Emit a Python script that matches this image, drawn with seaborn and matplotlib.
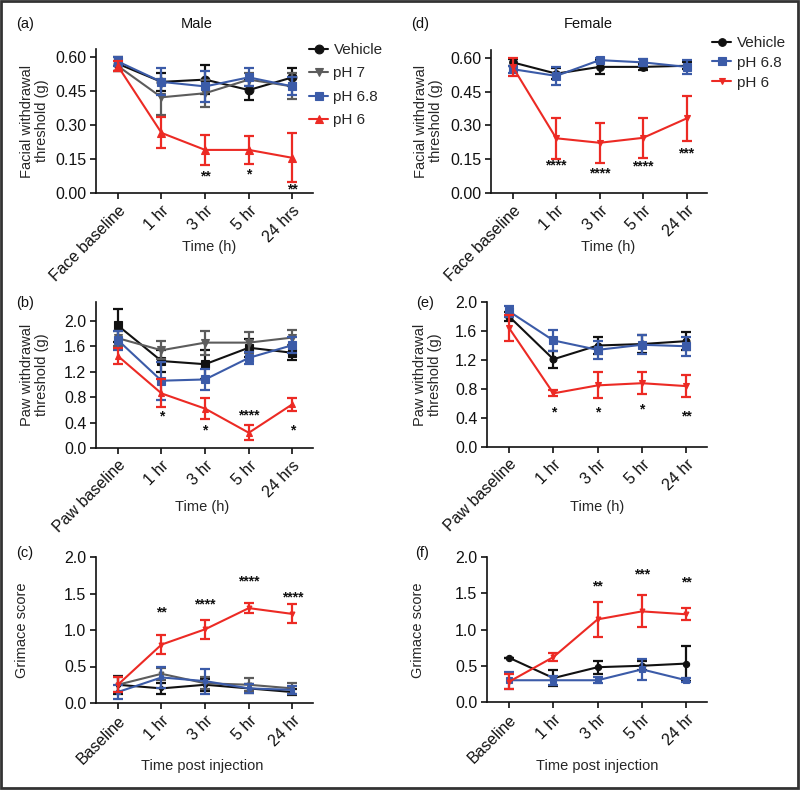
import numpy as np
import pandas as pd
import matplotlib
matplotlib.use("Agg")
import matplotlib.pyplot as plt
import seaborn as sns
from matplotlib.patches import Rectangle

sns.set_theme(style="ticks")
plt.rcParams['font.family'] = ['Liberation Sans', 'DejaVu Sans']

# ---------------- data ----------------
time_idx = [0, 1, 2, 3, 4]
labels_face_m = ["Face baseline", "1 hr", "3 hr", "5 hr", "24 hrs"]
labels_face_f = ["Face baseline", "1 hr", "3 hr", "5 hr", "24 hr"]
labels_paw_m = ["Paw baseline", "1 hr", "3 hr", "5 hr", "24 hrs"]
labels_paw_f = ["Paw baseline", "1 hr", "3 hr", "5 hr", "24 hr"]
labels_grim = ["Baseline", "1 hr", "3 hr", "5 hr", "24 hr"]

# (a) Male facial
a_veh = [0.57, 0.49, 0.50, 0.454, 0.51]
a_veh_err = [0.03, 0.04, 0.065, 0.045, 0.04]
a_ph7 = [0.56, 0.422, 0.44, 0.50, 0.47]
a_ph7_err = [0.02, 0.08, 0.06, 0.03, 0.057]
a_ph68 = [0.58, 0.49, 0.47, 0.51, 0.47]
a_ph68_err = [0.02, 0.06, 0.07, 0.04, 0.04]
a_ph6 = [0.56, 0.265, 0.19, 0.19, 0.155]
a_ph6_err = [0.02, 0.068, 0.065, 0.06, 0.108]
a_sig_x = [2, 3, 4]
a_sig_y = [0.075, 0.08, 0.015]
a_sig_t = ["**", "*", "**"]

# (d) Female facial
d_veh = [0.58, 0.53, 0.56, 0.56, 0.565]
d_veh_err = [0.015, 0.025, 0.03, 0.015, 0.015]
d_ph68 = [0.55, 0.52, 0.59, 0.58, 0.56]
d_ph68_err = [0.015, 0.04, 0.01, 0.015, 0.03]
d_ph6 = [0.56, 0.243, 0.223, 0.245, 0.331]
d_ph6_err = [0.04, 0.09, 0.09, 0.09, 0.1]
d_sig_x = [1, 2, 3, 4]
d_sig_y = [0.124, 0.087, 0.12, 0.176]
d_sig_t = ["****", "****", "****", "***"]

# (b) Male paw
b_veh = [1.93, 1.37, 1.32, 1.58, 1.50]
b_veh_err = [0.26, 0.18, 0.23, 0.14, 0.11]
b_ph7 = [1.73, 1.54, 1.66, 1.66, 1.74]
b_ph7_err = [0.12, 0.14, 0.19, 0.16, 0.12]
b_ph68 = [1.70, 1.06, 1.08, 1.42, 1.62]
b_ph68_err = [0.15, 0.30, 0.16, 0.10, 0.13]
b_ph6 = [1.45, 0.86, 0.62, 0.24, 0.69]
b_ph6_err = [0.12, 0.22, 0.16, 0.12, 0.10]
b_sig_x = [1, 2, 3, 4]
b_sig_y = [0.50, 0.28, 0.52, 0.28]
b_sig_t = ["*", "*", "****", "*"]

# (e) Female paw
e_veh = [1.80, 1.21, 1.40, 1.42, 1.46]
e_veh_err = [0.06, 0.12, 0.12, 0.12, 0.12]
e_ph68 = [1.87, 1.47, 1.34, 1.41, 1.39]
e_ph68_err = [0.07, 0.14, 0.12, 0.13, 0.13]
e_ph6 = [1.64, 0.74, 0.85, 0.88, 0.84]
e_ph6_err = [0.18, 0.04, 0.18, 0.15, 0.15]
e_sig_x = [1, 2, 3, 4]
e_sig_y = [0.48, 0.48, 0.52, 0.42]
e_sig_t = ["*", "*", "*", "**"]

# (c) Male grimace
c_veh = [0.25, 0.20, 0.25, 0.20, 0.15]
c_veh_err = [0.12, 0.07, 0.08, 0.06, 0.04]
c_ph7 = [0.25, 0.40, 0.27, 0.25, 0.20]
c_ph7_err = [0.10, 0.08, 0.08, 0.09, 0.07]
c_ph68 = [0.15, 0.35, 0.30, 0.20, 0.18]
c_ph68_err = [0.10, 0.14, 0.17, 0.06, 0.05]
c_ph6 = [0.25, 0.80, 1.01, 1.30, 1.22]
c_ph6_err = [0.10, 0.13, 0.13, 0.07, 0.13]
c_sig_x = [1, 2, 3, 4]
c_sig_y = [1.24, 1.35, 1.66, 1.45]
c_sig_t = ["**", "****", "****", "****"]

# (f) Female grimace
f_veh = [0.61, 0.33, 0.48, 0.50, 0.53]
f_veh_err = [0.0, 0.11, 0.09, 0.06, 0.24]
f_ph68 = [0.30, 0.30, 0.30, 0.45, 0.30]
f_ph68_err = [0.12, 0.06, 0.04, 0.14, 0.03]
f_ph6 = [0.28, 0.62, 1.14, 1.25, 1.21]
f_ph6_err = [0.10, 0.05, 0.24, 0.22, 0.08]
f_sig_x = [2, 3, 4]
f_sig_y = [1.60, 1.76, 1.65]
f_sig_t = ["**", "***", "**"]

# ---------------- style ----------------
BLACK = "#111111"
GRAY = "#5c5c5c"
BLUE = "#3b5ba8"
RED = "#ec2a24"

W, H = 800, 790
fig = plt.figure(figsize=(8.0, 7.9), dpi=100)


def fx(px):
    return px / W


def fy(py):
    return 1 - py / H


def make_ax(l, r, t, b):
    return fig.add_axes([fx(l), fy(b), fx(r) - fx(l), fy(t) - fy(b)])


def draw_panel(ax, series, xlabels, ylim, yticks, yfmt, sig, ylabel, xlabel,
               ylab_pos, xlab_pos):
    handles = []
    for name, mean, err, color, marker, ms in series:
        sns.lineplot(x=time_idx, y=mean, ax=ax, color=color, marker=marker,
                     markersize=ms, markeredgecolor=color, markeredgewidth=0.8,
                     linewidth=1.5, errorbar=None, legend=False)
        line = ax.lines[-1]
        line.set_label(name)
        handles.append(line)
        ax.errorbar(time_idx, mean, yerr=err, fmt='none', ecolor=color,
                    elinewidth=1.6, capsize=3.3, capthick=1.6)
    for sx, sy, st in zip(*sig):
        ax.text(sx, sy, st, ha='center', va='center', fontsize=10,
                fontweight='bold', color=BLACK)
    ax.set_xlim(-0.5, 4.47)
    ax.set_ylim(*ylim)
    ax.set_yticks(yticks)
    ax.set_yticklabels([yfmt.format(v) for v in yticks], fontsize=11.5)
    ax.set_xticks(time_idx)
    ax.set_xticklabels(xlabels, rotation=45, ha='right', rotation_mode='anchor',
                       fontsize=11.5)
    ax.set_ylabel(ylabel, fontsize=10.5, linespacing=1.1)
    ax.yaxis.set_label_coords(fx(ylab_pos[0]), fy(ylab_pos[1]),
                              transform=fig.transFigure)
    ax.set_xlabel(xlabel, fontsize=10.5)
    ax.xaxis.set_label_coords(fx(xlab_pos[0]), fy(xlab_pos[1]),
                              transform=fig.transFigure)
    ax.xaxis.label.set_va('top')
    sns.despine(ax=ax)
    for s in ("left", "bottom"):
        ax.spines[s].set_linewidth(1.2)
        ax.spines[s].set_color(BLACK)
    ax.tick_params(axis='both', length=4.5, width=1.2, color=BLACK,
                   labelcolor=BLACK, pad=2.5)
    ax.patch.set_alpha(0)
    return handles


# (a)
ax_a = make_ax(96, 313, 49, 193)
h_a = draw_panel(ax_a,
                 [("Vehicle", a_veh, a_veh_err, BLACK, 'o', 6.3),
                  ("pH 7", a_ph7, a_ph7_err, GRAY, 'v', 6.3),
                  ("pH 6.8", a_ph68, a_ph68_err, BLUE, 's', 5.8),
                  ("pH 6", a_ph6, a_ph6_err, RED, '^', 6.3)],
                 labels_face_m, (0, 0.635), [0.0, 0.15, 0.30, 0.45, 0.60], "{:.2f}",
                 (a_sig_x, a_sig_y, a_sig_t),
                 "Facial withdrawal\nthreshold (g)", "Time (h)",
                 (49, 121), (209, 240))
ax_a.legend(handles=h_a, loc='upper left',
            bbox_to_anchor=(fx(309), fy(43)), bbox_transform=fig.transFigure,
            frameon=False, fontsize=11, handlelength=1.25, handletextpad=0.35,
            labelspacing=0.62, borderpad=0, borderaxespad=0)

# (d)
ax_d = make_ax(491, 707, 50, 193)
h_d = draw_panel(ax_d,
                 [("Vehicle", d_veh, d_veh_err, BLACK, 'o', 5.5),
                  ("pH 6.8", d_ph68, d_ph68_err, BLUE, 's', 5.8),
                  ("pH 6", d_ph6, d_ph6_err, RED, 'v', 5)],
                 labels_face_f, (0, 0.635), [0.0, 0.15, 0.30, 0.45, 0.60], "{:.2f}",
                 (d_sig_x, d_sig_y, d_sig_t),
                 "Facial withdrawal\nthreshold (g)", "Time (h)",
                 (443, 121), (608, 240))
ax_d.legend(handles=h_d, loc='upper left',
            bbox_to_anchor=(fx(712), fy(36)), bbox_transform=fig.transFigure,
            frameon=False, fontsize=11, handlelength=1.25, handletextpad=0.4,
            labelspacing=0.38, borderpad=0, borderaxespad=0)

# (b)
ax_b = make_ax(96, 313, 302, 448)
draw_panel(ax_b,
           [("Vehicle", b_veh, b_veh_err, BLACK, 's', 5.8),
            ("pH 7", b_ph7, b_ph7_err, GRAY, 'v', 6),
            ("pH 6.8", b_ph68, b_ph68_err, BLUE, 's', 5.8),
            ("pH 6", b_ph6, b_ph6_err, RED, '^', 5)],
           labels_paw_m, (0, 2.3), [0.0, 0.4, 0.8, 1.2, 1.6, 2.0], "{:.1f}",
           (b_sig_x, b_sig_y, b_sig_t),
           "Paw withdrawal\nthreshold (g)", "Time (h)",
           (49, 375), (202, 500))

# (e)
ax_e = make_ax(487, 707, 302, 447)
draw_panel(ax_e,
           [("Vehicle", e_veh, e_veh_err, BLACK, 'o', 5),
            ("pH 6.8", e_ph68, e_ph68_err, BLUE, 's', 5.8),
            ("pH 6", e_ph6, e_ph6_err, RED, 'v', 5)],
           labels_paw_f, (0, 2.0), [0.0, 0.4, 0.8, 1.2, 1.6, 2.0], "{:.1f}",
           (e_sig_x, e_sig_y, e_sig_t),
           "Paw withdrawal\nthreshold (g)", "Time (h)",
           (442, 375), (597, 500))

# (c)
ax_c = make_ax(96, 313, 557, 703)
draw_panel(ax_c,
           [("Vehicle", c_veh, c_veh_err, BLACK, 'o', 3),
            ("pH 7", c_ph7, c_ph7_err, GRAY, 'v', 3.5),
            ("pH 6.8", c_ph68, c_ph68_err, BLUE, 's', 3),
            ("pH 6", c_ph6, c_ph6_err, RED, 'v', 3.5)],
           labels_grim, (0, 2.0), [0.0, 0.5, 1.0, 1.5, 2.0], "{:.1f}",
           (c_sig_x, c_sig_y, c_sig_t),
           "Grimace score", "Time post injection",
           (29, 630), (202, 759))

# (f)
ax_f = make_ax(487, 707, 557, 702)
draw_panel(ax_f,
           [("Vehicle", f_veh, f_veh_err, BLACK, 'o', 4.5),
            ("pH 6.8", f_ph68, f_ph68_err, BLUE, 's', 4.5),
            ("pH 6", f_ph6, f_ph6_err, RED, 'v', 3.5)],
           labels_grim, (0, 2.0), [0.0, 0.5, 1.0, 1.5, 2.0], "{:.1f}",
           (f_sig_x, f_sig_y, f_sig_t),
           "Grimace score", "Time post injection",
           (425, 630), (597, 759))

# panel letters and titles
for txt, px, py in [("(a)", 16, 24), ("(b)", 16, 303), ("(c)", 16, 553),
                    ("(d)", 411, 24), ("(e)", 416, 303), ("(f)", 415, 553)]:
    fig.text(fx(px), fy(py), txt, ha='left', va='center', fontsize=10.5, color=BLACK)
fig.text(fx(197), fy(24), "Male", ha='center', va='center', fontsize=10.5, color=BLACK)
fig.text(fx(588), fy(24), "Female", ha='center', va='center', fontsize=10.5, color=BLACK)

# outer frame
fig.patches.append(Rectangle((0.001, 0.002), 0.997, 0.997, transform=fig.transFigure,
                             fill=False, edgecolor="#333333", linewidth=2))

fig.savefig("out.png", dpi=100)
